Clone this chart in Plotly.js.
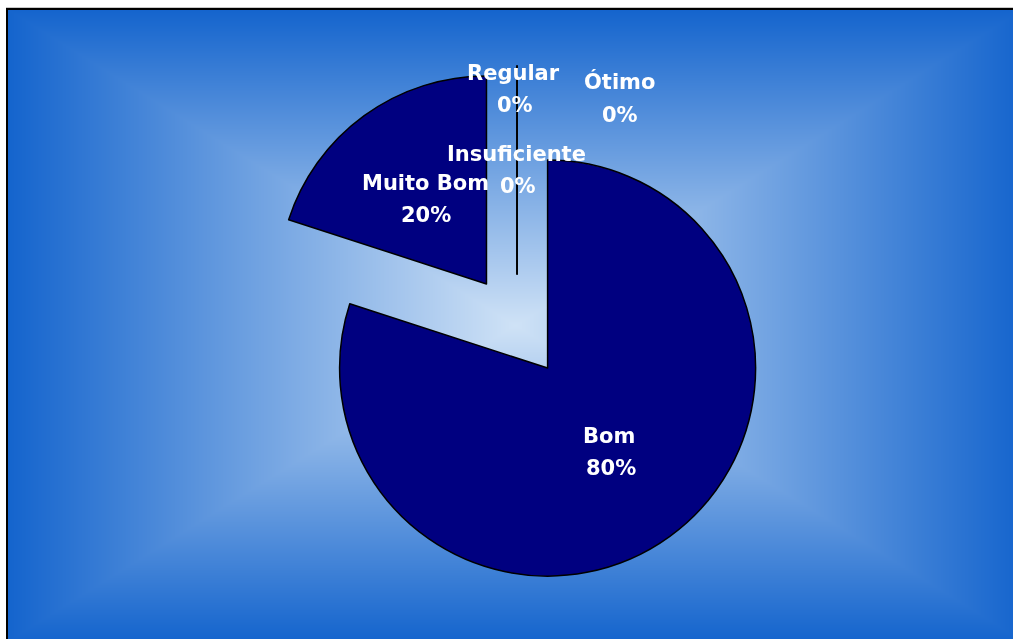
<!DOCTYPE html>
<html>
<head>
<meta charset="utf-8">
<script src="https://cdn.plot.ly/plotly-3.0.1.min.js"></script>
<style>
  html, body { margin: 0; padding: 0; background: #ffffff; width: 1013px; height: 639px; overflow: hidden; }
  #frame { position: absolute; left: 6px; top: 8px; width: 1030px; height: 660px;
           border-top: 2px solid #000; border-left: 2px solid #000; box-shadow: 0 -1px 0 #c8c8c8; }
  #bg { position: absolute; left: 8px; top: 10px; }
  #chart { position: absolute; left: 0; top: 0; width: 1013px; height: 639px; }
</style>
</head>
<body>
<div id="frame"></div>
<canvas id="bg" width="1005" height="629"></canvas>
<div id="chart"></div>
<script>
// ---- data ----
var categories = ['Insuficiente', 'Regular', 'Bom', 'Muito Bom', 'Ótimo'];
var values = [0, 0, 80, 20, 0];
var percentLabels = ['0%', '0%', '80%', '20%', '0%'];

// ---- background: rectangular gradient from centre ----
(function () {
  var cv = document.getElementById('bg');
  var ctx = cv.getContext('2d');
  var W = cv.width, H = cv.height;
  var img = ctx.createImageData(W, H);
  var cx = 515 - 8, cy = 325 - 10, hw = 508, hh = 316;
  var c0 = [207, 226, 246], c1 = [20, 100, 205];
  for (var y = 0; y < H; y++) {
    for (var x = 0; x < W; x++) {
      var t = Math.max(Math.abs(x - cx) / hw, Math.abs(y - cy) / hh);
      if (t > 1) t = 1;
      var k = (y * W + x) * 4;
      img.data[k] = c0[0] + (c1[0] - c0[0]) * t;
      img.data[k + 1] = c0[1] + (c1[1] - c0[1]) * t;
      img.data[k + 2] = c0[2] + (c1[2] - c0[2]) * t;
      img.data[k + 3] = 255;
    }
  }
  ctx.putImageData(img, 0, 0);
})();

// ---- chart ----
var trace = {
  type: 'pie',
  labels: categories,
  values: values,
  sort: false,
  direction: 'clockwise',
  rotation: 0,
  pull: values.map(function () { return 0.25; }),
  marker: { colors: categories.map(function () { return '#000080'; }),
            line: { color: '#000000', width: 1.5 } },
  textinfo: 'none',
  hoverinfo: 'label+percent',
  showlegend: false,
  domain: { x: [0.2537, 0.7671], y: [0.0829, 0.8967] }
};

// label positions (pixel centres) for each category: [labelX, labelY, pctX, pctY]
var labelPos = {
  'Insuficiente': [516, 154, 518, 186],
  'Regular': [513, 73, 515, 105],
  'Bom': [609, 436, 611, 468],
  'Muito Bom': [425, 183, 426, 215],
  'Ótimo': [619, 82, 620, 115]
};
var annotations = [];
var fnt = { family: 'DejaVu Sans, Arial, sans-serif', size: 21, color: '#ffffff', weight: 'bold' };
categories.forEach(function (c, i) {
  var p = labelPos[c];
  annotations.push({ xref: 'paper', yref: 'paper', x: p[0] / 1013, y: 1 - p[1] / 639,
    text: '<b>' + c + '</b>', showarrow: false, font: fnt, xanchor: 'center', yanchor: 'middle' });
  annotations.push({ xref: 'paper', yref: 'paper', x: p[2] / 1013, y: 1 - p[3] / 639,
    text: '<b>' + percentLabels[i] + '</b>', showarrow: false, font: fnt, xanchor: 'center', yanchor: 'middle' });
});

var layout = {
  width: 1013, height: 639,
  margin: { l: 0, r: 0, t: 0, b: 0 },
  paper_bgcolor: 'rgba(0,0,0,0)',
  plot_bgcolor: 'rgba(0,0,0,0)',
  annotations: annotations
};

Plotly.newPlot('chart', [trace], layout, { displayModeBar: false, staticPlot: true });
</script>
</body>
</html>
